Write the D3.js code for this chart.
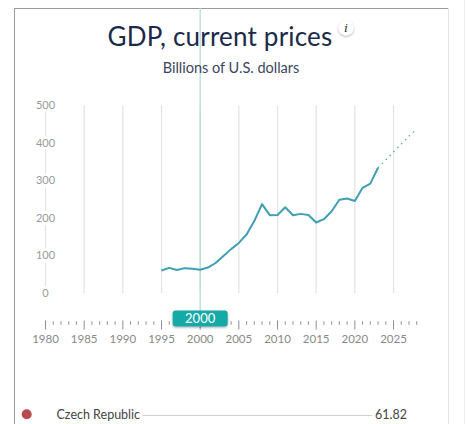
<!DOCTYPE html>
<html><head><meta charset="utf-8">
<script src="https://cdn.jsdelivr.net/npm/d3@7/dist/d3.min.js"></script>
<style>
html,body{margin:0;padding:0;background:#fff;overflow:hidden;}
svg{display:block;}
</style></head>
<body>
<svg id="c" width="467" height="424"></svg>
<script>
const years = [1995,1996,1997,1998,1999,2000,2001,2002,2003,2004,2005,2006,2007,2008,2009,2010,2011,2012,2013,2014,2015,2016,2017,2018,2019,2020,2021,2022,2023];
const gdp = [60.0,67.0,61.5,66.3,64.6,61.82,67.8,80.0,98.5,117.0,133.5,156.0,192.0,237.0,207.5,207.8,228.7,207.4,211.0,208.0,188.0,196.8,218.0,248.5,252.0,245.5,280.5,291.5,334.0];
const projYears = [2023,2024,2025,2026,2027,2028];
const projGdp = [334.0,355.0,376.0,397.0,418.0,438.0];
const yTicks = [0,100,200,300,400,500];
const xLabels = [1980,1985,1990,1995,2000,2005,2010,2015,2020,2025];
const selectedYear = 2000;
const legendName = "Czech Republic";
const legendValue = "61.82";

const svg = d3.select("#c");
const x = d3.scaleLinear().domain([1980,2028]).range([45.5,416.7]);
const y = d3.scaleLinear().domain([0,500]).range([293,105.5]);

// frame
svg.append("line").attr("x1",14.5).attr("x2",14.5).attr("y1",8).attr("y2",424).attr("stroke","#9a9a9a").attr("stroke-width",1);
svg.append("line").attr("x1",14).attr("x2",448).attr("y1",8.5).attr("y2",8.5).attr("stroke","#9a9a9a").attr("stroke-width",1);
svg.append("line").attr("x1",448.5).attr("x2",448.5).attr("y1",8).attr("y2",424).attr("stroke","#e4e4e4").attr("stroke-width",1);
svg.append("line").attr("x1",464.5).attr("x2",464.5).attr("y1",0).attr("y2",424).attr("stroke","#eeeeee").attr("stroke-width",1);

// gridlines
const gridYears = d3.range(1980,2026,5);
svg.append("g").selectAll("line").data(gridYears).join("line")
  .attr("x1",d=>x(d)).attr("x2",d=>x(d)).attr("y1",y(500)).attr("y2",y(0))
  .attr("stroke","#e3e3e3").attr("stroke-width",1.2);

// y labels
const yl = svg.append("g");
yl.selectAll("rect").data(yTicks).join("rect")
  .attr("x",x(1980)-10).attr("y",d=>y(d)-7).attr("width",20).attr("height",14).attr("fill","#fff");
yl.selectAll("text").data(yTicks).join("text")
  .attr("x",x(1980)).attr("y",d=>y(d)).attr("dy","0.35em").attr("text-anchor","middle")
  .attr("font-family","Lato, sans-serif").attr("font-size",11).attr("fill","#999").text(d=>d);

// highlighted year line
svg.append("line").attr("x1",x(selectedYear)).attr("x2",x(selectedYear)).attr("y1",8).attr("y2",328)
  .attr("stroke","#b7dcdc").attr("stroke-width",1.3);

// data line
const line = d3.line().x((d,i)=>x(d[0])).y(d=>y(d[1]));
svg.append("path").datum(years.map((d,i)=>[d,gdp[i]])).attr("d",line)
  .attr("fill","none").attr("stroke","#3f9fb3").attr("stroke-width",2).attr("stroke-linejoin","round");
svg.append("path").datum(projYears.map((d,i)=>[d,projGdp[i]])).attr("d",line)
  .attr("fill","none").attr("stroke","#5aacbd").attr("stroke-width",1.4).attr("stroke-dasharray","1.5,4");

// title
svg.append("text").attr("x",220).attr("y",46).attr("text-anchor","middle")
  .attr("font-family","Lato, sans-serif").attr("font-weight",400).attr("letter-spacing",0.2).attr("font-size",26).attr("fill","#1c2a4a").text("GDP, current prices");
svg.append("text").attr("x",231).attr("y",73).attr("text-anchor","middle")
  .attr("font-family","Lato, sans-serif").attr("font-size",14.5).attr("fill","#3b4660").text("Billions of U.S. dollars");

// info icon
const defs = svg.append("defs");
const f = defs.append("filter").attr("id","sh").attr("x","-50%").attr("y","-50%").attr("width","200%").attr("height","200%");
f.append("feDropShadow").attr("dx",0).attr("dy",1).attr("stdDeviation",1).attr("flood-color","#000").attr("flood-opacity",0.35);
svg.append("circle").attr("cx",346).attr("cy",28).attr("r",7.5).attr("fill","#fff").attr("filter","url(#sh)");
svg.append("text").attr("x",346).attr("y",32).attr("text-anchor","middle")
  .attr("font-family","DejaVu Serif, serif").attr("font-style","italic").attr("font-size",11).attr("fill","#222").text("i");

// axis ticks
const allYears = d3.range(1980,2029);
svg.append("g").selectAll("line").data(allYears).join("line")
  .attr("x1",d=>x(d)).attr("x2",d=>x(d))
  .attr("y1",d=>d%5===0?320.5:321.3).attr("y2",d=>d%5===0?329.5:324.7)
  .attr("stroke",d=>d%5===0?"#8a8fa0":"#9a9a9a").attr("stroke-width",d=>d%5===0?1:1.1);
svg.append("g").selectAll("text").data(xLabels).join("text")
  .attr("x",d=>x(d)).attr("y",343).attr("text-anchor","middle")
  .attr("font-family","Lato, sans-serif").attr("font-size",11.5).attr("fill","#888").text(d=>d);

// badge
svg.append("rect").attr("x",x(selectedYear)-27.5).attr("y",310.5).attr("width",55).attr("height",16).attr("rx",3)
  .attr("fill","#17aaa7").attr("filter","url(#sh)");
svg.append("text").attr("x",x(selectedYear)).attr("y",323).attr("text-anchor","middle")
  .attr("font-family","Lato, sans-serif").attr("font-size",13).attr("fill","#fff").text(selectedYear);

// legend
svg.append("circle").attr("cx",26.7).attr("cy",414.3).attr("r",5).attr("fill","#b94a4c");
svg.append("text").attr("x",56.5).attr("y",418.5).attr("font-family","Lato, sans-serif").attr("font-size",12.5).attr("fill","#444").text(legendName);
svg.append("line").attr("x1",142.5).attr("x2",372).attr("y1",415.5).attr("y2",415.5).attr("stroke","#cfcfcf").attr("stroke-width",1);
svg.append("text").attr("x",407).attr("y",418.5).attr("text-anchor","end").attr("font-family","Lato, sans-serif").attr("font-size",12.5).attr("fill","#444").text(legendValue);
</script>
</body></html>
